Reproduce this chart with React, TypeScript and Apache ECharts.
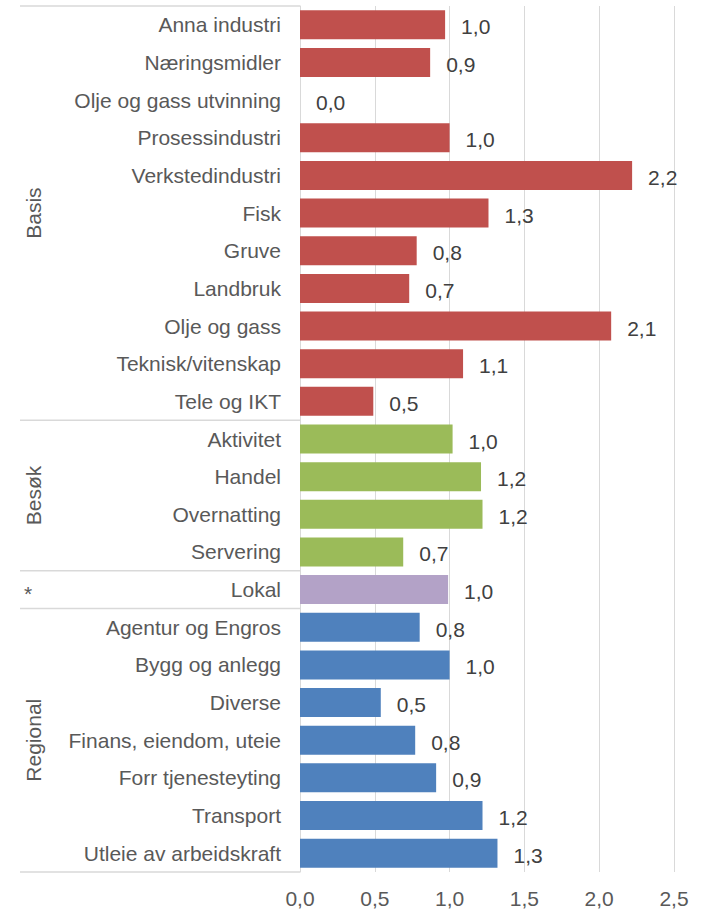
import React, { useEffect, useRef } from "react";
import * as echarts from "echarts";

const categories = [
  "Anna industri",
  "Næringsmidler",
  "Olje og gass utvinning",
  "Prosessindustri",
  "Verkstedindustri",
  "Fisk",
  "Gruve",
  "Landbruk",
  "Olje og gass",
  "Teknisk/vitenskap",
  "Tele og IKT",
  "Aktivitet",
  "Handel",
  "Overnatting",
  "Servering",
  "Lokal",
  "Agentur og Engros",
  "Bygg og anlegg",
  "Diverse",
  "Finans, eiendom, uteie",
  "Forr tjenesteyting",
  "Transport",
  "Utleie av arbeidskraft",
];

const values = [
  0.97, 0.87, 0.0, 1.0, 2.22, 1.26, 0.78, 0.73, 2.08, 1.09, 0.49,
  1.02, 1.21, 1.22, 0.69,
  0.99,
  0.8, 1.0, 0.54, 0.77, 0.91, 1.22, 1.32,
];

const groupOf = [
  "Basis", "Basis", "Basis", "Basis", "Basis", "Basis", "Basis", "Basis", "Basis", "Basis", "Basis",
  "Besøk", "Besøk", "Besøk", "Besøk",
  "*",
  "Regional", "Regional", "Regional", "Regional", "Regional", "Regional", "Regional",
];

const groupNames = ["Basis", "Besøk", "*", "Regional"];
const groupColors: Record<string, string> = {
  Basis: "#C0504D",
  "Besøk": "#9BBB59",
  "*": "#B3A2C7",
  Regional: "#4F81BD",
};

const xTicks = { min: 0, max: 2.5, interval: 0.5 };

const FONT = "'Liberation Sans', Arial, sans-serif";
const fmt = (v: number) => v.toFixed(1).replace(".", ",");

export default function App() {
  const ref = useRef<HTMLDivElement>(null);

  useEffect(() => {
    if (!ref.current) return;
    const chart = echarts.init(ref.current, null, { renderer: "svg" });
    const gridLeft = 300;
    chart.setOption({
      animation: false,
      textStyle: { fontFamily: FONT },
      grid: { left: gridLeft, right: 28, top: 6, bottom: 38, containLabel: false },
      xAxis: {
        type: "value",
        min: xTicks.min,
        max: xTicks.max,
        interval: xTicks.interval,
        axisLine: { show: false },
        axisTick: { show: false },
        splitLine: { show: true, lineStyle: { color: "#d9d9d9", width: 1 } },
        axisLabel: {
          formatter: (v: number) => fmt(v),
          fontSize: 21,
          color: "#595959",
          fontFamily: FONT,
          margin: 16,
        },
      },
      yAxis: {
        type: "category",
        inverse: true,
        data: categories,
        axisLine: { show: true, lineStyle: { color: "#d9d9d9", width: 1 } },
        axisTick: { show: false },
        axisLabel: { fontSize: 21, color: "#595959", fontFamily: FONT, margin: 19 },
      },
      series: [
        {
          type: "bar",
          barCategoryGap: "23%",
          data: values.map((v, i) => ({
            value: v,
            itemStyle: { color: groupColors[groupOf[i]] },
          })),
          label: {
            show: true,
            position: "right",
            distance: 16,
            offset: [0, 2],
            fontSize: 21,
            color: "#404040",
            fontFamily: FONT,
            formatter: (p: any) => fmt(p.value),
          },
        },
      ],
    });

    // Group separators and labels, positioned from the axis scale
    const center = (i: number) => chart.convertToPixel({ yAxisIndex: 0 }, i) as number;
    const n = categories.length;
    const c0 = center(0);
    const c1 = center(1);
    const step = c1 - c0;
    const boundary = (i: number) => c0 + (i - 0.5) * step;

    const graphics: any[] = [];
    const starts: number[] = [];
    groupNames.forEach((g) => {
      const idx = groupOf.indexOf(g);
      const last = groupOf.lastIndexOf(g);
      starts.push(idx);
      const yTop = boundary(idx);
      const yBot = boundary(last + 1);
      const yMid = (yTop + yBot) / 2;
      if (g === "*") {
        graphics.push({
          type: "text",
          x: 28,
          y: yMid + 4,
          style: {
            text: g,
            fontSize: 21,
            fill: "#595959",
            fontFamily: FONT,
            align: "center",
            verticalAlign: "middle",
          },
        });
      } else {
        graphics.push({
          type: "text",
          x: 33,
          y: yMid,
          rotation: Math.PI / 2,
          style: {
            text: g,
            fontSize: 21,
            fill: "#595959",
            fontFamily: FONT,
            align: "center",
            verticalAlign: "middle",
          },
        });
      }
    });
    const lineYs = starts.map((s) => boundary(s)).concat([boundary(n)]);
    lineYs.forEach((y) => {
      graphics.push({
        type: "line",
        shape: { x1: 20, y1: y, x2: gridLeft, y2: y },
        style: { stroke: "#d9d9d9", lineWidth: 1.5 },
      });
    });
    chart.setOption({ graphic: graphics });

    return () => chart.dispose();
  }, []);

  return (
    <div
      ref={ref}
      style={{ position: "fixed", left: 0, top: 0, width: 702, height: 910, background: "#fff" }}
    />
  );
}
